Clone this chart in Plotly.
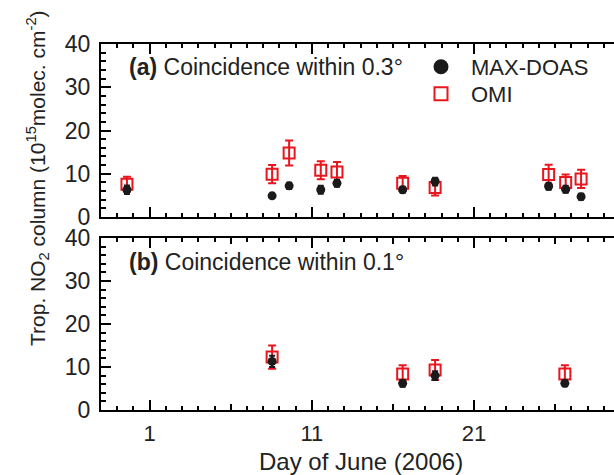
import plotly.graph_objects as go

# ---------------- data ----------------
days_a = [-0.4, 8.55, 9.6, 11.55, 12.55, 16.6, 18.6, 25.6, 26.65, 27.6]
maxdoas_a = [6.3, 4.9, 7.2, 6.3, 7.8, 6.3, 8.2, 7.1, 6.4, 4.7]
maxdoas_a_err = [1.0, 0.5, 0.7, 0.9, 0.8, 0.7, 0.9, 0.8, 0.8, 0.7]
omi_a = [7.6, 9.9, 14.8, 10.8, 10.4, 7.8, 6.8, 9.8, 8.0, 8.8]
omi_a_err = [1.7, 2.1, 2.9, 2.1, 2.3, 1.7, 1.8, 2.3, 1.8, 2.1]

days_b = [8.55, 16.6, 18.6, 26.6]
maxdoas_b = [11.3, 6.2, 8.0, 6.2]
maxdoas_b_err = [1.3, 0.8, 1.0, 0.7]
omi_b = [12.3, 8.4, 9.3, 8.4]
omi_b_err = [2.7, 2.0, 2.3, 2.0]

x_major = [1, 11, 21]
x_mid = [1, 6, 11, 16, 21, 26]
x_labels = ["1", "", "11", "", "21", ""]
x_range = [-2, 29.63]
y_range = [0, 40]

RED = "#e8161e"
BLACK = "#1a1a1a"
FONT = "Liberation Sans, Arial, sans-serif"

fig = go.Figure()

def add_panel(days, omi, omi_err, mx, mx_err, xa, ya):
    fig.add_trace(go.Scatter(
        x=days, y=omi, mode="markers", xaxis=xa, yaxis=ya, showlegend=False,
        marker=dict(symbol="square-open", size=11, color=RED, line=dict(width=2, color=RED)),
        error_y=dict(type="data", array=omi_err, color=RED, thickness=2, width=4),
    ))
    fig.add_trace(go.Scatter(
        x=days, y=mx, mode="markers", xaxis=xa, yaxis=ya, showlegend=False,
        marker=dict(symbol="circle", size=9, color=BLACK),
        error_y=dict(type="data", array=mx_err, color=BLACK, thickness=2, width=3),
    ))

add_panel(days_a, omi_a, omi_a_err, maxdoas_a, maxdoas_a_err, "x", "y")
add_panel(days_b, omi_b, omi_b_err, maxdoas_b, maxdoas_b_err, "x2", "y2")

# legend-only entries (larger symbols like the reference legend)
fig.add_trace(go.Scatter(x=[None], y=[None], mode="markers", name="MAX-DOAS",
                         xaxis="x3", yaxis="y", legend="legend",
                         marker=dict(symbol="circle", size=15, color=BLACK)))
fig.add_trace(go.Scatter(x=[None], y=[None], mode="markers", name="OMI",
                         xaxis="x3", yaxis="y", legend="legend2",
                         marker=dict(symbol="square-open", size=13, color=RED,
                                     line=dict(width=2, color=RED))))
fig.add_trace(go.Scatter(x=[None], y=[None], mode="markers", showlegend=False,
                         xaxis="x4", yaxis="y2"))

# geometry (pixels) -> domains
W, H = 614, 475
L, R, T, B = 101, 0, 44, 65
PW = W - L - R
plot_h = H - T - B
top_a, bot_a = 44, 217
top_b, bot_b = 238, 410
dom_a = [(410 - bot_a) / plot_h, 1.0]
dom_b = [0.0, (410 - top_b) / plot_h]

xcommon = dict(range=x_range, showline=True, linecolor="black", linewidth=2,
               mirror="allticks", ticks="inside", tickvals=x_mid, ticktext=x_labels,
               ticklen=6, tickwidth=1.8, tickcolor="black", automargin=False,
               minor=dict(dtick=1, tick0=1, ticks="inside", ticklen=4, tickwidth=1.5,
                          tickcolor="black", showgrid=False),
               showgrid=False, zeroline=False,
               tickfont=dict(family=FONT, size=22, color="#222"))
ycommon = dict(range=y_range, showline=True, linecolor="black", linewidth=2,
               ticks="inside", dtick=10, tick0=0, ticklen=10, tickwidth=1.8,
               tickcolor="black", automargin=False,
               minor=dict(dtick=2, ticks="inside", ticklen=4.5, tickwidth=1.5,
                          tickcolor="black", showgrid=False),
               showgrid=False, zeroline=False, ticklabelstandoff=4,
               tickfont=dict(family=FONT, size=23, color="#222"))
overlay = dict(range=x_range, showline=False, ticks="inside", tickvals=x_major,
               ticklen=10, tickwidth=1.8, tickcolor="black", mirror="allticks",
               showticklabels=False, showgrid=False, zeroline=False, automargin=False)

leg_common = dict(xanchor="left", yanchor="middle", bgcolor="rgba(0,0,0,0)",
                  font=dict(family=FONT, size=22, color="#222"),
                  itemwidth=50, itemsizing="trace", borderwidth=0)

fig.update_layout(
    width=W, height=H,
    margin=dict(l=L, r=R, t=T, b=B, autoexpand=False),
    paper_bgcolor="white", plot_bgcolor="white",
    font=dict(family=FONT, color="#222"),
    xaxis=dict(**xcommon, anchor="y", domain=[0, 1], showticklabels=False),
    xaxis2=dict(**xcommon, anchor="y2", domain=[0, 1], ticklabelstandoff=3),
    xaxis3=dict(**overlay, anchor="y", overlaying="x"),
    xaxis4=dict(**overlay, anchor="y2", overlaying="x2"),
    yaxis=dict(**ycommon, anchor="x", domain=dom_a),
    yaxis2=dict(**ycommon, anchor="x2", domain=dom_b),
    legend=dict(**leg_common, x=(411 - L) / PW, y=(410 - 67) / plot_h),
    legend2=dict(**leg_common, x=(411 - L) / PW, y=(410 - 94) / plot_h),
    annotations=[
        dict(text="<b>(a)</b> Coincidence within 0.3°", xref="paper", yref="y domain",
             x=(127 - L) / PW, y=(bot_a - 67) / (bot_a - top_a),
             xanchor="left", yanchor="middle", showarrow=False,
             font=dict(family=FONT, size=23, color="#222")),
        dict(text="<b>(b)</b> Coincidence within 0.1°", xref="paper", yref="y2 domain",
             x=(127 - L) / PW, y=(bot_b - 262) / (bot_b - top_b),
             xanchor="left", yanchor="middle", showarrow=False,
             font=dict(family=FONT, size=23, color="#222")),
        dict(text="Day of June (2006)", xref="paper", yref="paper",
             x=(361 - L) / PW, y=(410 - 461) / plot_h,
             xanchor="center", yanchor="middle", showarrow=False,
             font=dict(family=FONT, size=24, color="#222")),
        dict(text="Trop. NO<sub>2</sub> column (10<sup>15</sup>molec. cm<sup>-2</sup>)",
             xref="paper", yref="paper", textangle=-90,
             x=(37 - L) / PW, y=(410 - 178) / plot_h,
             xanchor="center", yanchor="middle", showarrow=False,
             font=dict(family=FONT, size=21, color="#222")),
    ],
)

fig.write_html(
    "out.html",
    config={"displayModeBar": False},
    post_script="document.body.style.margin='0';document.body.style.overflow='hidden';",
)
